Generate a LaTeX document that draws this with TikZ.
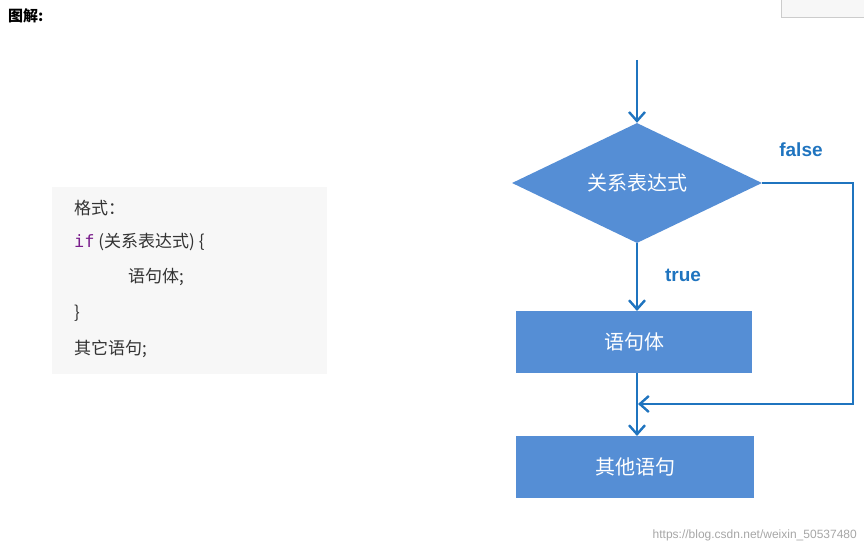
\documentclass[tikz,border=0pt]{standalone}
\usepackage{fontspec}
\setmainfont{Liberation Sans}
\newfontfamily\cjk{Noto Sans CJK SC}
\usetikzlibrary{shapes.geometric,arrows.meta}
\definecolor{boxfill}{HTML}{558ED5}
\definecolor{linec}{HTML}{1F74BF}
\definecolor{kw}{HTML}{7A1E8C}
\tikzset{
 flowbox/.style={draw=none,fill=boxfill,text=white,font=\cjk\fontsize{20}{20}\selectfont,minimum width=236pt,minimum height=62pt,inner sep=0pt},
 conn/.style={draw=linec,line width=2.6pt,-{Straight Barb[length=9pt,width=16pt,line width=2.4pt]}},
 codeline/.style={anchor=west,font=\cjk\fontsize{17}{17}\selectfont,text=black!80,inner sep=0pt},
 lbl/.style={text=linec,font=\bfseries\fontsize{19}{19}\selectfont,inner sep=0pt}
}
\begin{document}
\begin{tikzpicture}[x=1pt,y=-1pt]
\useasboundingbox (0,0) rectangle (864,553);
\node[anchor=west,inner sep=0pt,font=\cjk\bfseries\fontsize{15}{15}\selectfont] (title) at (8,16) {图解:};
\draw[draw=black!20,fill=black!3] (781,-2) rectangle (866,17);
\fill[black!3] (52,187) rectangle (327,374);
\node[codeline] (c1) at (74,208) {格式：};
\node[codeline] (c2) at (74,242) {{\color{kw}\fontspec{DejaVu Sans Mono}if} (关系表达式) \{};
\node[codeline] (c3) at (128,277) {语句体;};
\node[codeline] (c4) at (74,313) {\}};
\node[codeline] (c5) at (74,349) {其它语句;};
\coordinate (top) at (637,60);
\node[diamond,fill=boxfill,text=white,font=\cjk\fontsize{20}{20}\selectfont,minimum width=250pt,minimum height=120pt,inner sep=0pt,aspect=2.08] (cond) at (637,183) {关系表达式};
\node[flowbox] (body) at (634,342) {语句体};
\node[flowbox,minimum width=238pt] (other) at (635,467) {其他语句};
\coordinate (merge) at (637,404);
\coordinate (rt) at (853,183);
\coordinate (rb) at (853,404);
\draw[conn] (top) -- (cond.north);
\draw[conn] (cond.south) -- (637,311);
\draw[conn] (637,373) -- (637,436);
\draw[conn] (cond.east) -- (rt) -- (rb) -- ([xshift=1pt]merge);
\node[lbl] (t) at (683,275) {true};
\node[lbl] (f) at (801,150) {false};
\node[text=black!35,font=\fontsize{12}{12}\selectfont,anchor=east,inner sep=0pt] (wm) at (857,535) {https://blog.csdn.net/weixin\_50537480};
\end{tikzpicture}
\end{document}
